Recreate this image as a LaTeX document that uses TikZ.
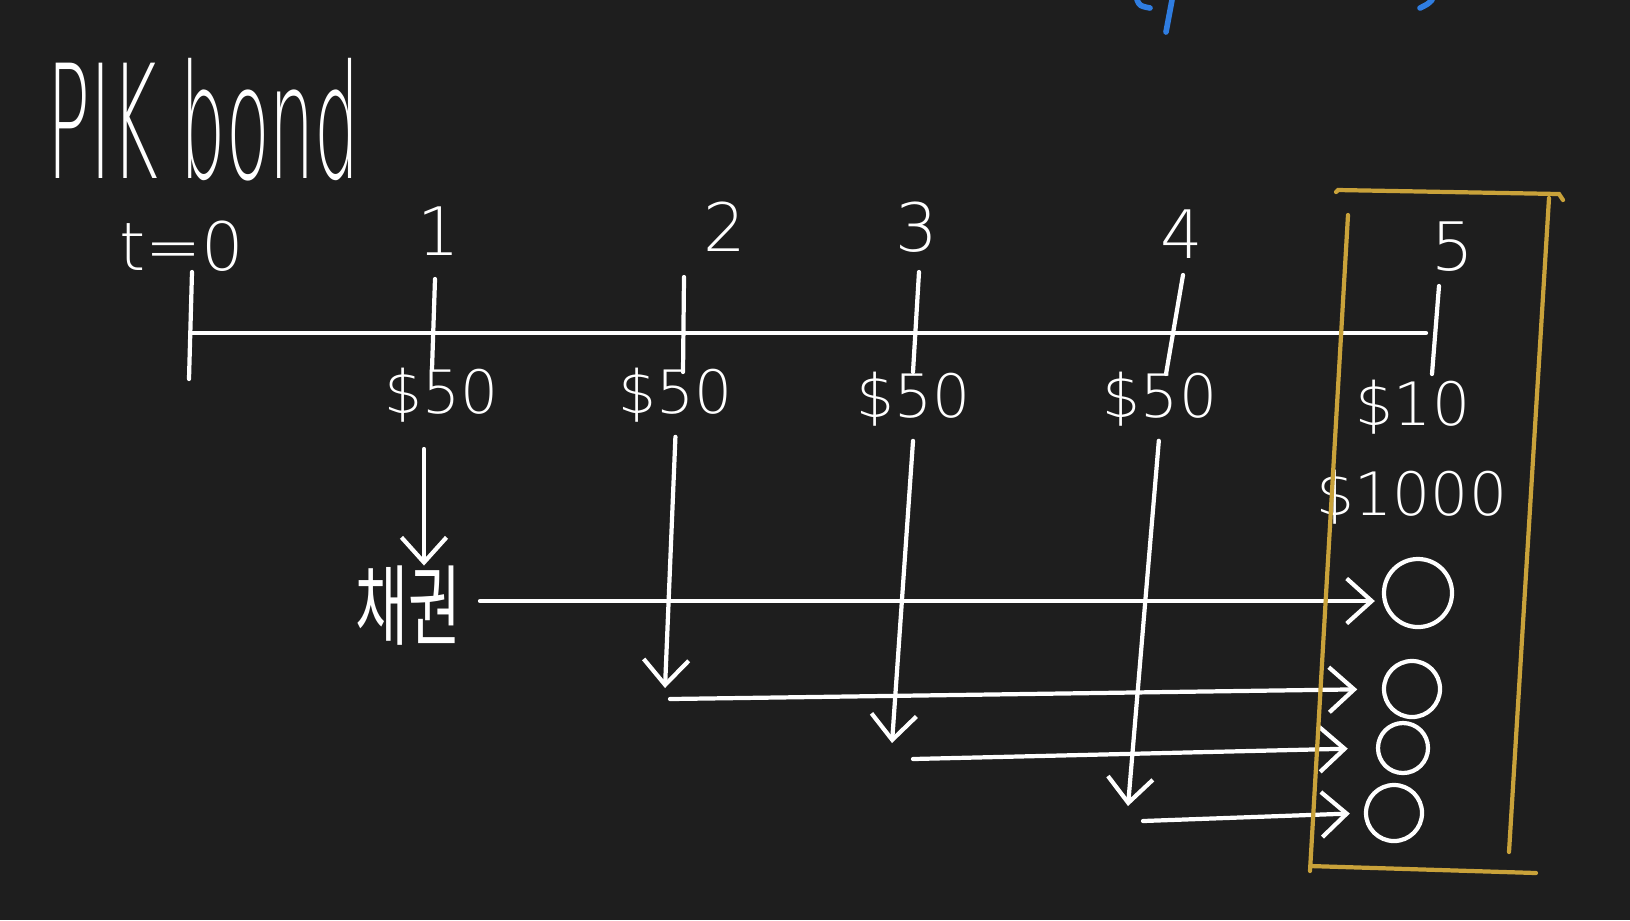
\documentclass[tikz,border=0pt]{standalone}
\usepackage{fontspec}
\newfontfamily\handfont{DejaVu Sans ExtraLight}
\newfontfamily\titlefont[FakeStretch=0.45]{DejaVu Sans ExtraLight}
\newfontfamily\cjkfont[FakeStretch=0.65]{Noto Sans CJK KR}
\usetikzlibrary{arrows.meta, positioning}
\definecolor{BoardBg}{HTML}{1E1E1E}
\definecolor{BoxGold}{HTML}{C9A23A}
\definecolor{PenBlue}{HTML}{2F7DE1}
\begin{document}
\begin{tikzpicture}[x=0.01cm, y=-0.01cm,
  pen/.style={white, line width=1.2pt, line cap=round},
  num/.style={text=white, font=\handfont\fontsize{19}{19}\selectfont, inner sep=0pt},
  pay/.style={text=white, font=\handfont\fontsize{17}{17}\selectfont, inner sep=0pt},
  coin/.style={draw=white, line width=1.2pt, circle, inner sep=0pt},
  arr/.style={pen, -{Straight Barb[length=2.5mm, width=4.5mm]}},
  gold/.style={BoxGold, line width=1.2pt, line cap=round}]
\fill[BoardBg] (0,0) rectangle (1630,920);
\useasboundingbox (0,0) rectangle (1630,920);
% cut-off blue note at the top edge
\draw[PenBlue, line width=1.6pt, line cap=round] (1137,0) .. controls (1140,6) .. (1150,8);
\draw[PenBlue, line width=1.6pt, line cap=round] (1172,0) -- (1166,32);
\draw[PenBlue, line width=1.6pt, line cap=round] (1420,8) .. controls (1428,4) .. (1432,0);
% title
\node[text=white, font=\titlefont\fontsize{45}{45}\selectfont, inner sep=0pt, anchor=base west] (title) at (47,178) {PIK bond};
% time line and ticks
\coordinate (tstart) at (192,333); \coordinate (tend) at (1426,333);
\draw[pen] (tstart) -- (tend);
\draw[pen] (192,272) -- (189,379); \draw[pen] (435,279) -- (432,369); \draw[pen] (684,277) -- (683,372);
\draw[pen] (919,272) -- (913,372); \draw[pen] (1183,275) -- (1166,374); \draw[pen] (1439,286) -- (1432,374);
\node[num] (n0) at (182,246) {t=0};
\node[num] (n1) at (439,231) {1};
\node[num] (n2) at (725,227) {2};
\node[num] (n3) at (917,227) {3};
\node[num] (n4) at (1182,234) {4};
\node[num] (n5) at (1453,247) {5};
% cash flows
\node[pay] (p1) at (442,395) {\$50};
\node[pay] (p2) at (676,395) {\$50};
\node[pay] (p3) at (914,399) {\$50};
\node[pay] (p4) at (1160,399) {\$50};
\node[pay] (p5) at (1413,407) {\$10};
\node[pay] (p6) at (1412,497) {\$1000};
\node[text=white, font=\cjkfont\fontsize{25}{25}\selectfont, inner sep=0pt] (k) at (408,606) {채권};
\node[coin, minimum size=0.68cm] (c1) at (1418,593) {};
\node[coin, minimum size=0.56cm] (c2) at (1412,689) {};
\node[coin, minimum size=0.50cm] (c3) at (1403,748) {};
\node[coin, minimum size=0.56cm] (c4) at (1394,813) {};
\coordinate (a1) at (424,449); \coordinate (d2) at (665,688); \coordinate (d3) at (892,743); \coordinate (d4) at (1128,806);
\coordinate (h1) at (480,601); \coordinate (h2) at (670,699); \coordinate (h3) at (913,759); \coordinate (h4) at (1143,821);
\draw[arr] (a1) -- (k.north -| a1); \draw[arr, shorten <=4pt] (p2.south) -- (d2); \draw[arr, shorten <=4pt] (p3.south) -- (d3); \draw[arr, shorten <=4pt] (p4.south) -- (d4);
\draw[arr, shorten >=2pt] (h1) -- (h1 -| c1.west);
\draw[arr, shorten >=7pt] (h2) -- (c2.west); \draw[arr, shorten >=8pt] (h3) -- (c3.west); \draw[arr, shorten >=4pt] (h4) -- (c4.west);
% reinvested block at maturity
\draw[gold] (1336,192) -- (1338,190) -- (1559,194) -- (1563,200);
\draw[gold] (1549,198) -- (1509,852);
\draw[gold] (1348,215) -- (1310,871);
\draw[gold] (1310,866) -- (1536,873);
\end{tikzpicture}
\end{document}
